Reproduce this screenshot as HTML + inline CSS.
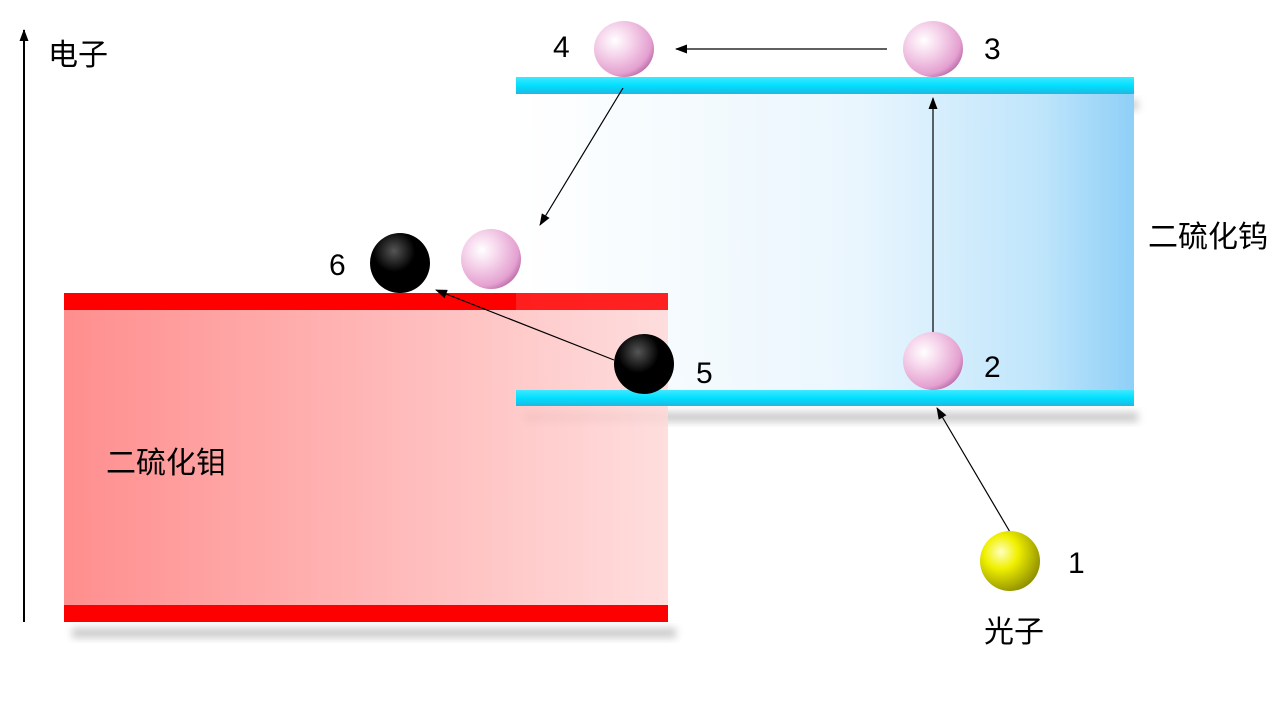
<!DOCTYPE html>
<html><head><meta charset="utf-8"><style>
html,body{margin:0;padding:0;background:#fff;width:1280px;height:720px;overflow:hidden}
text{font-family:"Liberation Sans","Noto Sans CJK SC",sans-serif;fill:#000}
</style></head><body>
<svg width="1280" height="720" viewBox="0 0 1280 720" xmlns="http://www.w3.org/2000/svg">
<defs>
<linearGradient id="blue" x1="0" x2="1" y1="0" y2="0">
<stop offset="0" stop-color="#ffffff"/><stop offset="0.55" stop-color="#eaf6fe"/><stop offset="0.85" stop-color="#bfe5fb"/><stop offset="1" stop-color="#8fcff7"/></linearGradient>
<linearGradient id="red" x1="0" x2="1" y1="0" y2="0">
<stop offset="0" stop-color="#ff7a7a"/><stop offset="1" stop-color="#ffd8d8"/></linearGradient>
<linearGradient id="cyan" x1="0" x2="0" y1="0" y2="1">
<stop offset="0" stop-color="#40e8ff"/><stop offset="0.5" stop-color="#00e0ff"/><stop offset="1" stop-color="#20b8e0"/></linearGradient>
<radialGradient id="pink" cx="0.35" cy="0.35" r="0.75">
<stop offset="0" stop-color="#ffffff"/><stop offset="0.35" stop-color="#f6d6ec"/><stop offset="0.8" stop-color="#e4a0d0"/><stop offset="1" stop-color="#b060a0"/></radialGradient>
<radialGradient id="blk" cx="0.4" cy="0.3" r="0.7">
<stop offset="0" stop-color="#555"/><stop offset="0.5" stop-color="#000"/><stop offset="1" stop-color="#000"/></radialGradient>
<radialGradient id="yel" cx="0.35" cy="0.35" r="0.7">
<stop offset="0" stop-color="#ffffc0"/><stop offset="0.4" stop-color="#f0f000"/><stop offset="1" stop-color="#909000"/></radialGradient>
<filter id="sh" x="-10%" y="-50%" width="120%" height="200%"><feGaussianBlur stdDeviation="4"/></filter>
<marker id="ar" markerWidth="12" markerHeight="9" refX="11" refY="4.5" orient="auto" markerUnits="userSpaceOnUse"><path d="M0,0 L12,4.5 L0,9 z" fill="#000"/></marker>
</defs>
<rect x="524" y="100" width="614" height="10" fill="#999" opacity="0.5" filter="url(#sh)"/>
<rect x="524" y="412" width="614" height="10" fill="#999" opacity="0.5" filter="url(#sh)"/>
<rect x="516" y="77" width="618" height="329" fill="url(#blue)"/>
<rect x="516" y="77" width="618" height="17" fill="url(#cyan)"/>
<rect x="72" y="628" width="604" height="10" fill="#999" opacity="0.5" filter="url(#sh)"/>
<rect x="64" y="293" width="604" height="329" fill="url(#red)" opacity="0.85"/>
<rect x="64" y="293" width="452" height="17" fill="#ff0000"/>
<rect x="516" y="293" width="152" height="17" fill="#ff0000" opacity="0.85"/>
<rect x="64" y="605" width="604" height="17" fill="#ff0000"/>
<rect x="516" y="390" width="618" height="16" fill="url(#cyan)"/>
<line x1="24" y1="622" x2="24" y2="30" stroke="#000" stroke-width="2" marker-end="url(#ar)"/>
<text x="48" y="65" font-size="30">电子</text>
<text x="1148" y="247" font-size="30">二硫化钨</text>
<text x="106" y="473" font-size="30">二硫化钼</text>
<text x="984" y="642" font-size="30">光子</text>
<g stroke="#000" stroke-width="1.2" fill="none" marker-end="url(#ar)">
<line x1="887" y1="49" x2="676" y2="49"/>
<line x1="933" y1="332" x2="933" y2="98"/>
<line x1="623" y1="88" x2="540" y2="225"/>
<line x1="614" y1="360" x2="436" y2="290"/>
<line x1="1010" y1="532" x2="937" y2="408"/>
</g>
<ellipse cx="624" cy="49" rx="30" ry="28" fill="url(#pink)"/>
<ellipse cx="933" cy="49" rx="30" ry="28" fill="url(#pink)"/>
<ellipse cx="933" cy="361" rx="30" ry="29" fill="url(#pink)"/>
<circle cx="491" cy="259" r="30" fill="url(#pink)"/>
<circle cx="400" cy="263" r="30" fill="url(#blk)"/>
<circle cx="644" cy="364" r="30" fill="url(#blk)"/>
<circle cx="1010" cy="561" r="30" fill="url(#yel)"/>
<g font-size="30">
<text x="553" y="57">4</text>
<text x="984" y="59">3</text>
<text x="984" y="377">2</text>
<text x="696" y="383">5</text>
<text x="329" y="275">6</text>
<text x="1068" y="573">1</text>
</g>
</svg>
</body></html>
